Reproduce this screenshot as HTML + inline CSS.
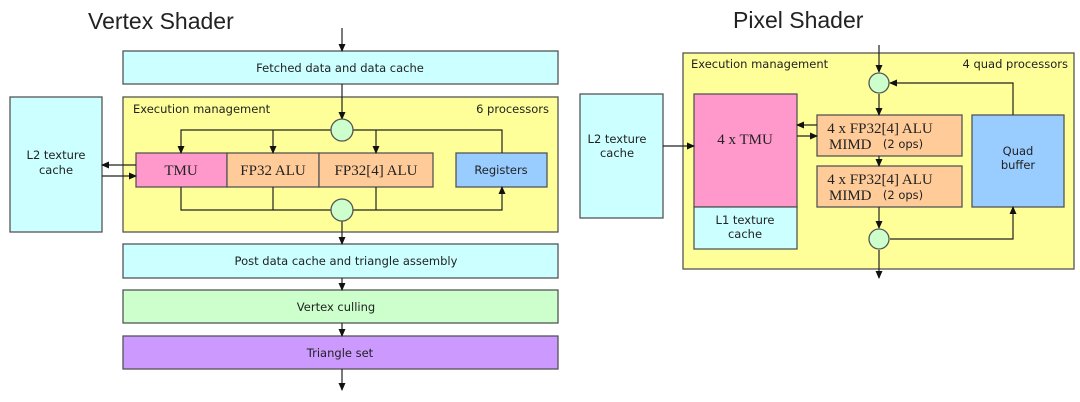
<!DOCTYPE html>
<html><head><meta charset="utf-8"><style>
html,body{margin:0;padding:0;background:#fff;width:1080px;height:402px;overflow:hidden}
svg{display:block}
.s{font-family:"DejaVu Sans","Liberation Sans",sans-serif;font-size:11.5px;fill:#222}
.r{font-family:"Liberation Serif",serif;font-size:15px;fill:#222}
.t{font-family:"Liberation Sans",sans-serif;font-size:23px;fill:#222}
</style></head><body>
<svg width="1080" height="402" viewBox="0 0 1080 402" xmlns="http://www.w3.org/2000/svg">
<defs><marker id="a" markerWidth="8" markerHeight="8" refX="7" refY="4" orient="auto" markerUnits="userSpaceOnUse"><path d="M0,0.5 L8,4 L0,7.5z" fill="#111"/></marker></defs>
<g stroke="#555" stroke-width="1.3">
<text class="t" x="88" y="29" stroke="none">Vertex Shader</text>
<text class="t" x="733" y="28" stroke="none">Pixel Shader</text>

<rect x="123" y="51" width="435" height="33" fill="#ccffff"/>
<rect x="123" y="97" width="435" height="135" fill="#ffff99"/>
<rect x="10" y="97" width="92" height="135" fill="#ccffff"/>
<rect x="136" y="153" width="91" height="34" fill="#ff99cc"/>
<rect x="227" y="153" width="92" height="34" fill="#ffcc99"/>
<rect x="319" y="153" width="114" height="34" fill="#ffcc99"/>
<rect x="456" y="153" width="91" height="34" fill="#99ccff"/>
<rect x="123" y="244" width="435" height="34" fill="#ccffff"/>
<rect x="123" y="290" width="435" height="33" fill="#ccffcc"/>
<rect x="123" y="336" width="435" height="33" fill="#cc99ff"/>
<g fill="none" stroke="#222" stroke-width="1.2">
<line x1="342" y1="28" x2="342" y2="51" marker-end="url(#a)"/>
<line x1="342" y1="84" x2="342" y2="119" marker-end="url(#a)"/>
<polyline points="331,130 181,130 181,153" marker-end="url(#a)"/>
<line x1="273" y1="130" x2="273" y2="153" marker-end="url(#a)"/>
<polyline points="353,130 502,130 502,153"/>
<line x1="376" y1="130" x2="376" y2="153" marker-end="url(#a)"/>
<polyline points="181,187 181,210 331,210"/>
<line x1="273" y1="187" x2="273" y2="210"/>
<polyline points="376,187 376,210 353,210 502,210 502,187" marker-end="url(#a)"/>
<line x1="342" y1="221" x2="342" y2="244" marker-end="url(#a)"/>
<line x1="342" y1="278" x2="342" y2="290" marker-end="url(#a)"/>
<line x1="342" y1="323" x2="342" y2="336" marker-end="url(#a)"/>
<line x1="342" y1="369" x2="342" y2="390" marker-end="url(#a)"/>
<line x1="136" y1="165" x2="102" y2="165" marker-end="url(#a)"/>
<line x1="102" y1="176" x2="136" y2="176" marker-end="url(#a)"/>
</g>
<circle cx="342" cy="130" r="11" fill="#ccffcc"/>
<circle cx="342" cy="210" r="11" fill="#ccffcc"/>
</g>
<g class="s">
<text x="340" y="72" text-anchor="middle">Fetched data and data cache</text>
<text x="133" y="113">Execution management</text>
<text x="549" y="113" text-anchor="end">6 processors</text>
<text x="56" y="159" text-anchor="middle">L2 texture</text>
<text x="56" y="174" text-anchor="middle">cache</text>
<text x="501" y="174" text-anchor="middle">Registers</text>
<text x="346" y="265" text-anchor="middle">Post data cache and triangle assembly</text>
<text x="336" y="311" text-anchor="middle">Vertex culling</text>
<text x="340" y="357" text-anchor="middle">Triangle set</text>
</g>
<g class="r">
<text x="181" y="175" text-anchor="middle">TMU</text>
<text x="273" y="175" text-anchor="middle">FP32 ALU</text>
<text x="376" y="175" text-anchor="middle">FP32[4] ALU</text>
</g>

<g stroke="#555" stroke-width="1.3">
<rect x="683" y="53" width="391" height="216" fill="#ffff99"/>
<rect x="580" y="94" width="83" height="124" fill="#ccffff"/>
<rect x="694" y="94" width="103" height="113" fill="#ff99cc"/>
<rect x="694" y="207" width="103" height="42" fill="#ccffff"/>
<rect x="817" y="115" width="145" height="41" fill="#ffcc99"/>
<rect x="817" y="166" width="145" height="41" fill="#ffcc99"/>
<rect x="972" y="115" width="92" height="92" fill="#99ccff"/>
<g fill="none" stroke="#222" stroke-width="1.2">
<line x1="879" y1="45" x2="879" y2="72" marker-end="url(#a)"/>
<line x1="879" y1="94" x2="879" y2="115" marker-end="url(#a)"/>
<polyline points="1013,115 1013,83 890,83" marker-end="url(#a)"/>
<line x1="879" y1="156" x2="879" y2="166" marker-end="url(#a)"/>
<line x1="879" y1="207" x2="879" y2="228" marker-end="url(#a)"/>
<polyline points="890,239 1013,239 1013,207" marker-end="url(#a)"/>
<line x1="879" y1="250" x2="879" y2="278" marker-end="url(#a)"/>
<line x1="663" y1="146" x2="694" y2="146" marker-end="url(#a)"/>
<line x1="817" y1="125" x2="797" y2="125" marker-end="url(#a)"/>
<line x1="797" y1="136" x2="817" y2="136" marker-end="url(#a)"/>
</g>
<circle cx="879" cy="83" r="10" fill="#ccffcc"/>
<circle cx="879" cy="239" r="10" fill="#ccffcc"/>
</g>
<g class="s">
<text x="691" y="68">Execution management</text>
<text x="1068" y="68" text-anchor="end">4 quad processors</text>
<text x="617" y="143" text-anchor="middle">L2 texture</text>
<text x="617" y="157" text-anchor="middle">cache</text>
<text x="745" y="224" text-anchor="middle">L1 texture</text>
<text x="745" y="238" text-anchor="middle">cache</text>
<text x="1018" y="155" text-anchor="middle">Quad</text>
<text x="1018" y="169" text-anchor="middle">buffer</text>
<text x="903" y="148" text-anchor="middle">(2 ops)</text>
<text x="903" y="199" text-anchor="middle">(2 ops)</text>
</g>
<g class="r">
<text x="745" y="144" text-anchor="middle">4 x TMU</text>
<text x="880" y="133" text-anchor="middle">4 x FP32[4] ALU</text>
<text x="829" y="149">MIMD</text>
<text x="880" y="184" text-anchor="middle">4 x FP32[4] ALU</text>
<text x="829" y="200">MIMD</text>
</g>
</svg>
</body></html>
